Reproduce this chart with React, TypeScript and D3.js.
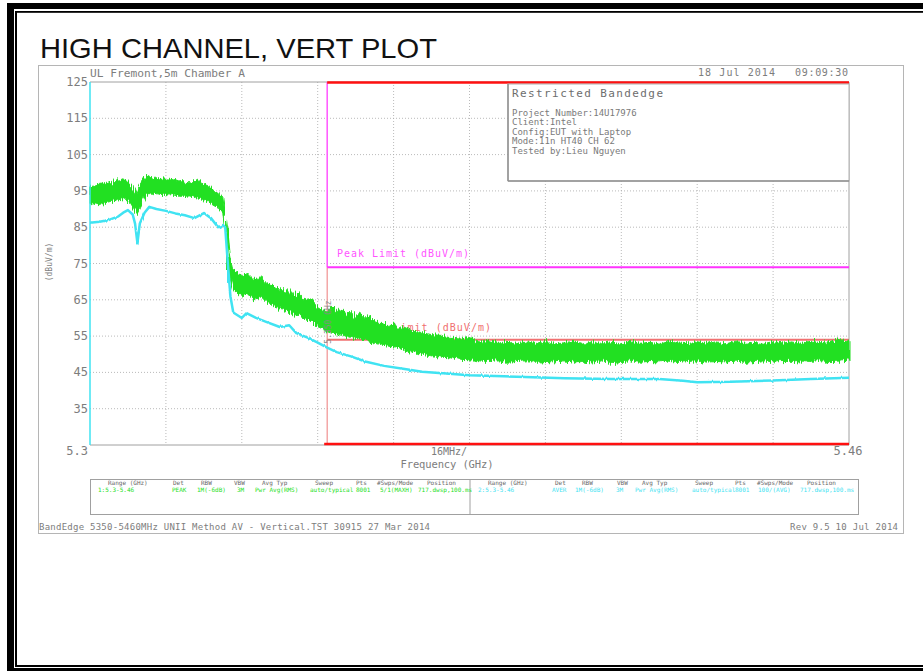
import React from "react";
import * as d3 from "d3";

// ---- data ----
const yTicks = [125, 115, 105, 95, 85, 75, 65, 55, 45, 35];
const xTickLabels = ["5.3", "16MHz/", "5.46"];

// Peak (green) trace envelope: frequency in MHz, upper and lower dBuV/m
const peakFreq = [5300, 5302, 5304, 5306, 5307, 5308, 5309, 5309.8, 5310.5, 5311.5, 5313, 5315, 5317, 5319, 5321, 5323, 5325, 5326, 5327, 5328, 5328.7, 5329.3, 5330, 5331, 5332, 5333, 5334, 5335, 5336, 5337, 5338, 5339, 5340, 5341, 5342, 5343, 5344, 5345, 5346, 5347, 5348, 5349, 5350, 5351, 5352, 5353, 5354, 5355, 5356, 5357, 5358, 5359, 5360, 5361, 5362, 5363, 5364, 5365, 5366, 5368, 5370, 5372, 5374, 5376, 5378, 5380, 5382, 5384, 5386, 5388, 5390, 5392, 5394, 5396, 5398, 5400, 5402, 5404, 5406, 5408, 5410, 5412, 5414, 5416, 5418, 5420, 5422, 5424, 5426, 5428, 5430, 5432, 5434, 5436, 5438, 5440, 5442, 5444, 5446, 5448, 5450, 5452, 5454, 5456, 5458, 5460];
const peakHi = [96, 96.8, 97.2, 97.8, 98.3, 97.6, 96, 94, 96.5, 98.6, 99, 98.2, 98.6, 97.6, 97.2, 97.8, 96.2, 95.2, 94.6, 93, 86, 78, 73.5, 72.6, 71.6, 72.4, 71, 70.6, 71.3, 69.5, 69.2, 68.4, 68.2, 67, 67.8, 66.4, 67.2, 65.5, 65, 64.3, 63, 62.2, 61.6, 63, 61.8, 62.4, 60.8, 61.6, 60.2, 61.3, 59.8, 60.6, 59.2, 58.4, 58.8, 57.6, 58.6, 57.2, 57.6, 56.4, 56, 55.4, 55.2, 54.4, 54.2, 54.6, 53.4, 53.8, 53, 53.6, 52.8, 53.4, 53, 53.8, 52.8, 53.2, 53.6, 52.8, 53.4, 52.9, 53.5, 52.8, 53.6, 53, 53.3, 52.8, 53.6, 53.1, 52.9, 53.5, 53, 53.4, 52.8, 53.6, 53, 53.3, 52.9, 53.5, 53.1, 53.4, 53, 53.6, 53.2, 53.5, 54, 53.6];
const peakLo = [91.5, 91.2, 92, 92.5, 93, 92.4, 90.2, 88.5, 90.5, 93.4, 94.4, 94, 94.2, 93.5, 93.6, 93, 92, 91, 90.4, 88.6, 80, 72, 68, 67, 66, 66.6, 65.6, 65, 65.6, 64.4, 64, 63, 62.6, 62, 61.6, 61, 60.6, 60, 59.5, 58.6, 57.6, 57, 56.2, 55.8, 55.6, 55.2, 55, 54.6, 54.4, 54.2, 54, 53.4, 53, 52.8, 52.5, 52.2, 52, 51.6, 51.2, 50.6, 50, 49.6, 49.2, 49, 48.6, 48.5, 48.2, 48, 48.2, 47.8, 48, 48.2, 47.8, 48, 47.9, 48.2, 47.8, 48.1, 47.9, 48.2, 47.7, 48, 48.2, 47.8, 48, 47.9, 48.1, 47.7, 48, 48.2, 47.8, 48, 47.9, 48.1, 47.8, 48, 48.2, 47.9, 48, 48.1, 47.8, 48.1, 48.2, 48, 48.1, 48.4];

// Average (cyan) trace
const avgFreq = [5300, 5302, 5304, 5306, 5307, 5308, 5309, 5309.5, 5310, 5310.5, 5311.5, 5312.5, 5314, 5316, 5318, 5320, 5322, 5324, 5325.5, 5327, 5328, 5328.5, 5329, 5329.6, 5330.2, 5332, 5333, 5335, 5337, 5340, 5342, 5343.5, 5346, 5348, 5350, 5352, 5355, 5358, 5362, 5366, 5370, 5375, 5380, 5390, 5400, 5410, 5420, 5425, 5428, 5435, 5444, 5452, 5460];
const avgVals = [86.2, 86.5, 87, 88, 89, 89.7, 88.5, 86, 80.6, 86, 89, 90.6, 90, 89.5, 88.8, 88.3, 87.5, 88.9, 87.5, 85, 85.6, 85, 76, 66, 61.5, 60, 61.3, 60, 59, 57.5, 58, 55.8, 54.5, 53.2, 51.8, 50.6, 49.4, 48, 46.8, 46, 45.2, 44.7, 44.2, 43.8, 43.4, 43.2, 43.2, 42.7, 42.3, 42.4, 42.8, 43.2, 43.5];

const peakLimit = 74;
const avgLimit = 54;
const bandEdge = 5350;

const infoLines = ["Project Number:14U17976", "Client:Intel", "Config:EUT with Laptop", "Mode:11n HT40 CH 62", "Tested by:Lieu Nguyen"];

const legendHeaders = ["Range (GHz)", "Det", "RBW", "VBW", "Avg Typ", "Sweep", "Pts", "#Swps/Mode", "Position"];
const legendHeadX1 = [108, 173, 201, 234, 262, 315, 356, 377, 427];
const legendHeadX2 = [488, 555, 582, 617, 642, 695, 735, 757, 807];
const legendVals1 = ["1:5.3-5.46", "PEAK", "1M(-6dB)", "3M", "Pwr Avg(RMS)", "auto/typical", "8001", "5/1(MAXH)", "717.dwsp,100.ms"];
const legendValX1 = [98, 172, 197, 237, 255, 310, 356, 380, 418];
const legendVals2 = ["2:5.3-5.46", "AVER", "1M(-6dB)", "3M", "Pwr Avg(RMS)", "auto/typical", "8001", "100/(AVG)", "717.dwsp,100.ms"];
const legendValX2 = [478, 552, 575, 616, 635, 692, 735, 758, 800];

const MONO = "'DejaVu Sans Mono', 'Liberation Mono', monospace";

export default function App() {
  const x = d3.scaleLinear().domain([5300, 5460]).range([90, 849]);
  const y = d3.scaleLinear().domain([25, 125]).range([445, 82]);

  const peakData = peakFreq.map((f, i) => ({ f, hi: peakHi[i], lo: peakLo[i] }));
  const avgData = avgFreq.map((f, i) => ({ f, v: avgVals[i] }));

  const peakArea = d3
    .area<{ f: number; hi: number; lo: number }>()
    .x((d) => x(d.f))
    .y0((d) => y(d.lo))
    .y1((d) => y(d.hi))
    .curve(d3.curveLinear)(peakData) || "";
  const avgLine = d3
    .line<{ f: number; v: number }>()
    .x((d) => x(d.f))
    .y((d) => y(d.v))(avgData) || "";

  const vGrid = d3.range(1, 10).map((i) => 5300 + i * 16);
  const hGrid = yTicks.slice(1);

  const green = "#22e022";
  const cyan = "#3fe3f2";
  const gray = "#7d7d7d";

  return (
    <svg
      width={923}
      height={671}
      style={{ position: "absolute", left: 0, top: 0, background: "#fff" }}
    >
      <defs>
        <filter id="peakNoise" x="-2%" y="-20%" width="104%" height="140%">
          <feTurbulence type="fractalNoise" baseFrequency="0.9 0.015" numOctaves={2} seed={4} result="n" />
          <feDisplacementMap in="SourceGraphic" in2="n" scale={9} xChannelSelector="G" yChannelSelector="R" />
        </filter>
        <filter id="avgNoise" x="-2%" y="-20%" width="104%" height="140%">
          <feTurbulence type="fractalNoise" baseFrequency="0.5 0.02" numOctaves={1} seed={7} result="n" />
          <feDisplacementMap in="SourceGraphic" in2="n" scale={2.5} xChannelSelector="G" yChannelSelector="R" />
        </filter>
      </defs>

      {/* outer frame */}
      <rect x={7} y={3} width={1000} height={6} fill="#000" />
      <rect x={7} y={3} width={7} height={700} fill="#000" />
      <rect x={7} y={668} width={1000} height={6} fill="#000" />
      <rect x={15} y={11} width={1000} height={1.8} fill="#000" />
      <rect x={15} y={11} width={2} height={656} fill="#000" />
      <rect x={15} y={665} width={1000} height={2} fill="#000" />

      <text x={40} y={58} fontFamily="'Liberation Sans', Arial, sans-serif" fontSize={28} fill="#111" textLength={397} lengthAdjust="spacingAndGlyphs">
        HIGH CHANNEL, VERT PLOT
      </text>

      {/* analyzer image border */}
      <rect x={38.5} y={65.5} width={865} height={468} fill="none" stroke="#b5b5b5" strokeWidth={1} />

      {/* header texts */}
      <text x={90} y={77} fontFamily={MONO} fontSize={10} fill={gray} textLength={155} lengthAdjust="spacingAndGlyphs">UL Fremont,5m Chamber A</text>
      <text x={698} y={76} fontFamily={MONO} fontSize={10} fill={gray} textLength={77} lengthAdjust="spacing">18 Jul 2014</text>
      <text x={795} y={76} fontFamily={MONO} fontSize={10} fill={gray} textLength={53} lengthAdjust="spacing">09:09:30</text>

      {/* grid */}
      {vGrid.map((f) => (
        <line key={"v" + f} x1={x(f)} x2={x(f)} y1={82} y2={445} stroke="#a8a8a8" strokeWidth={0.8} strokeDasharray="1,2" />
      ))}
      {hGrid.map((v) => (
        <line key={"h" + v} x1={90} x2={849} y1={y(v)} y2={y(v)} stroke="#a8a8a8" strokeWidth={0.8} strokeDasharray="1,2" />
      ))}
      {/* plot frame */}
      <line x1={90} x2={849} y1={82} y2={82} stroke="#a0a0a0" strokeWidth={1} />
      <line x1={849} x2={849} y1={82} y2={445} stroke="#a0a0a0" strokeWidth={1} />
      <line x1={90} x2={849} y1={445} y2={445} stroke="#a0a0a0" strokeWidth={1} />

      {/* y tick labels */}
      {yTicks.map((v) => (
        <text key={"yl" + v} x={88} y={y(v) + 4} textAnchor="end" fontFamily={MONO} fontSize={12} fill={gray}>
          {v}
        </text>
      ))}
      <text transform="translate(52,262) rotate(-90)" textAnchor="middle" fontFamily={MONO} fontSize={8} fill={gray}>
        (dBuV/m)
      </text>

      {/* x labels */}
      <text x={88} y={455} textAnchor="end" fontFamily={MONO} fontSize={12} fill={gray}>{xTickLabels[0]}</text>
      <text x={449} y={455} textAnchor="middle" fontFamily={MONO} fontSize={10} fill={gray}>{xTickLabels[1]}</text>
      <text x={848} y={455} textAnchor="middle" fontFamily={MONO} fontSize={12} fill={gray}>{xTickLabels[2]}</text>
      <text x={447} y={468} textAnchor="middle" fontFamily={MONO} fontSize={10.5} fill={gray} textLength={93} lengthAdjust="spacing">Frequency (GHz)</text>

      {/* limit lines and labels (under traces) */}
      <line x1={x(bandEdge)} x2={x(bandEdge)} y1={82} y2={y(peakLimit)} stroke="#ff55ff" strokeWidth={1.5} />
      <line x1={x(bandEdge)} x2={x(bandEdge)} y1={y(peakLimit)} y2={445} stroke="#f09090" strokeWidth={1.2} />
      <line x1={x(bandEdge)} x2={849} y1={y(peakLimit)} y2={y(peakLimit)} stroke="#ff33ff" strokeWidth={2} />
      <line x1={x(bandEdge)} x2={849} y1={y(avgLimit)} y2={y(avgLimit)} stroke="#f07070" strokeWidth={2} />
      <text x={337} y={257} fontFamily={MONO} fontSize={10} fill="#ff55ff" textLength={132} lengthAdjust="spacing">Peak Limit (dBuV/m)</text>
      <text x={337} y={331} fontFamily={MONO} fontSize={10} fill="#f07070" textLength={154} lengthAdjust="spacing">Average Limit (dBuV/m)</text>

      {/* traces */}
      <g filter="url(#peakNoise)">
        <path d={peakArea} fill={green} stroke={green} strokeWidth={1} strokeLinejoin="round" />
      </g>
      <g filter="url(#avgNoise)">
        <path d={avgLine} fill="none" stroke={cyan} strokeWidth={2.5} strokeLinejoin="round" />
      </g>
      <line x1={90} x2={90} y1={82} y2={445} stroke={cyan} strokeWidth={1.5} />

      {/* marker readout */}
      <text transform="translate(331,322) rotate(-90)" textAnchor="middle" fontFamily={MONO} fontSize={8} fill="#8a8a8a">
        5.350 GHz
      </text>

      {/* restricted band red lines */}
      <line x1={x(bandEdge)} x2={849} y1={82.5} y2={82.5} stroke="#ff1010" strokeWidth={2.5} />
      <line x1={x(bandEdge) - 3} x2={849} y1={444} y2={444} stroke="#ff1010" strokeWidth={2.5} />

      {/* info box */}
      <rect x={508} y={84} width={341} height={97} fill="#fff" stroke="#b0b0b0" strokeWidth={1} />
      <line x1={508} x2={508} y1={84} y2={181} stroke="#909090" strokeWidth={1.5} />
      <line x1={508} x2={849} y1={181} y2={181} stroke="#909090" strokeWidth={1.5} />
      <text x={512} y={97} fontFamily={MONO} fontSize={11} fill="#6d6d6d" textLength={151} lengthAdjust="spacing">Restricted Bandedge</text>
      {infoLines.map((t, i) => (
        <text key={t} x={512} y={116 + i * 9.4} fontFamily={MONO} fontSize={9} fill="#7a7a7a">
          {t}
        </text>
      ))}

      {/* legend table */}
      <rect x={90.5} y={479.5} width={768} height={35} fill="none" stroke="#a0a0a0" strokeWidth={1} />
      <line x1={470} x2={470} y1={479.5} y2={514.5} stroke="#a0a0a0" strokeWidth={1} />
      {legendHeaders.map((h, i) => (
        <text key={"h1" + i} x={legendHeadX1[i]} y={485} fontFamily={MONO} fontSize={6} fill="#666">{h}</text>
      ))}
      {legendHeaders.map((h, i) => (
        <text key={"h2" + i} x={legendHeadX2[i]} y={485} fontFamily={MONO} fontSize={6} fill="#666">{h}</text>
      ))}
      {legendVals1.map((v, i) => (
        <text key={"v1" + i} x={legendValX1[i]} y={492} fontFamily={MONO} fontSize={6} fill={green}>{v}</text>
      ))}
      {legendVals2.map((v, i) => (
        <text key={"v2" + i} x={legendValX2[i]} y={492} fontFamily={MONO} fontSize={6} fill={cyan}>{v}</text>
      ))}

      {/* footer */}
      <text x={39} y={530} fontFamily={MONO} fontSize={9} fill={gray} textLength={391} lengthAdjust="spacing">
        BandEdge 5350-5460MHz UNII Method AV - Vertical.TST 30915 27 Mar 2014
      </text>
      <text x={898} y={530} textAnchor="end" fontFamily={MONO} fontSize={9} fill={gray} textLength={108} lengthAdjust="spacing">
        Rev 9.5 10 Jul 2014
      </text>
    </svg>
  );
}
